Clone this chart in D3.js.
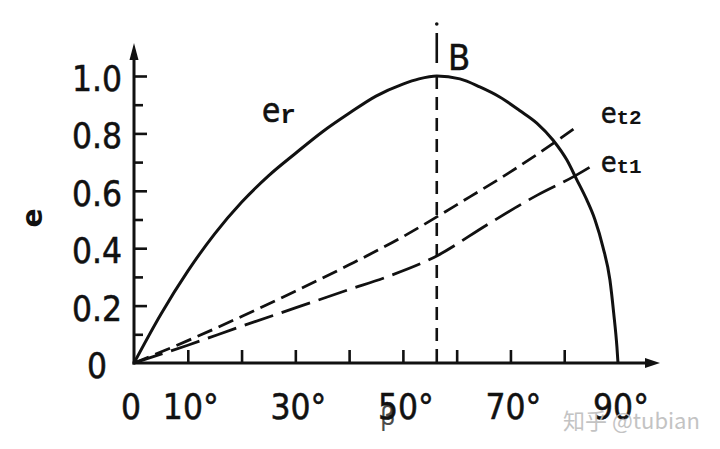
<!DOCTYPE html>
<html>
<head>
<meta charset="utf-8">
<script src="https://cdn.jsdelivr.net/npm/d3@7"></script>
<style>
  html, body { margin: 0; padding: 0; background: #fff; }
  svg { display: block; }
  .tick-label { font-family: "DejaVu Sans Condensed", "DejaVu Sans", sans-serif; font-size: 35px; fill: #111; stroke: #111; stroke-width: 0.5px; }
</style>
</head>
<body>
<div id="chart"></div>
<script>
// e_r curve (angle in degrees, value)
var erDeg = [0, 5, 10, 15, 20, 25, 30, 35, 40, 45, 50, 53, 56.3,
             60.6, 64.3, 68, 71.7, 74.9, 77.9, 80.5, 82.3, 84.2, 85.7, 87.2, 88.5, 89.2, 89.8, 90];
var erVal = [0, 0.17, 0.32, 0.45, 0.56, 0.652, 0.73, 0.805, 0.87, 0.93, 0.972, 0.99, 1.0,
             0.99, 0.962, 0.927, 0.88, 0.836, 0.777, 0.707, 0.64, 0.568, 0.5, 0.404, 0.289, 0.174, 0.056, 0];

// e_t2 (short dashes)
var et2Deg = [0, 10, 20, 30, 40, 50, 56.3, 60, 70, 80, 82.5];
var et2Val = [0, 0.078, 0.162, 0.25, 0.342, 0.44, 0.509, 0.551, 0.666, 0.792, 0.826];

// e_t1 (long dashes)
var et1Deg = [0, 10, 20, 30, 40, 47, 56.3, 65.6, 75, 82, 85.7];
var et1Val = [0, 0.062, 0.128, 0.192, 0.256, 0.3, 0.373, 0.481, 0.585, 0.652, 0.693];

var bDeg = 56.3;

var xTickDeg = [10, 20, 30, 40, 50, 60, 70, 80];
var xLabels = ["10°", "30°", "50°", "70°", "90°"];
var xLabelDeg = [10, 30, 50, 70, 90];
var yMajor = [0.2, 0.4, 0.6, 0.8, 1.0];
var yMinor = [0.1, 0.3, 0.5, 0.7, 0.9];
var yLabels = ["0", "0.2", "0.4", "0.6", "0.8", "1.0"];
var yLabelVal = [0, 0.2, 0.4, 0.6, 0.8, 1.0];

var width = 720, height = 449;

var svg = d3.select('#chart').append('svg')
    .attr('width', width)
    .attr('height', height);

var x = d3.scaleLinear().domain([0, 90]).range([134, 618]);
var y = d3.scaleLinear().domain([0, 1]).range([363, 76]);

var ink = '#111';

// ticks (pointing into the plot)
svg.append('g')
    .attr('transform', 'translate(' + x(0) + ',0)')
    .call(d3.axisRight(y).tickValues(yMajor).tickSize(13).tickFormat(''))
    .call(function(g) { g.select('.domain').remove(); })
    .selectAll('line').attr('stroke', ink).attr('stroke-width', 2.6);

svg.append('g')
    .attr('transform', 'translate(' + x(0) + ',0)')
    .call(d3.axisRight(y).tickValues(yMinor).tickSize(9).tickFormat(''))
    .call(function(g) { g.select('.domain').remove(); })
    .selectAll('line').attr('stroke', ink).attr('stroke-width', 2.6);

svg.append('g')
    .attr('transform', 'translate(0,' + y(0) + ')')
    .call(d3.axisTop(x).tickValues(xTickDeg).tickSize(13).tickFormat(''))
    .call(function(g) { g.select('.domain').remove(); })
    .selectAll('line').attr('stroke', ink).attr('stroke-width', 2.6);

// axis lines with arrows
svg.append('line')
    .attr('x1', x(0)).attr('y1', y(0) + 1.5)
    .attr('x2', x(0)).attr('y2', 52)
    .attr('stroke', ink).attr('stroke-width', 3);
svg.append('path')
    .attr('d', 'M' + x(0) + ',43 L' + (x(0) - 4.5) + ',60 L' + (x(0) + 4.5) + ',60 Z')
    .attr('fill', ink);

svg.append('line')
    .attr('x1', x(0) - 1.5).attr('y1', y(0))
    .attr('x2', 650).attr('y2', y(0))
    .attr('stroke', ink).attr('stroke-width', 3);
svg.append('path')
    .attr('d', 'M660,' + y(0) + ' L645,' + (y(0) - 5) + ' L645,' + (y(0) + 5) + ' Z')
    .attr('fill', ink);

// vertical B line
svg.append('line')
    .attr('x1', x(bDeg)).attr('y1', 33)
    .attr('x2', x(bDeg)).attr('y2', 63)
    .attr('stroke', ink).attr('stroke-width', 2.6);
svg.append('circle').attr('cx', x(bDeg)).attr('cy', 24).attr('r', 1.8).attr('fill', ink);
svg.append('line')
    .attr('x1', x(bDeg)).attr('y1', y(1))
    .attr('x2', x(bDeg)).attr('y2', y(0))
    .attr('stroke', ink).attr('stroke-width', 2.6)
    .attr('stroke-dasharray', '13,8');

var line = d3.line()
    .x(function(d) { return x(d[0]); })
    .y(function(d) { return y(d[1]); })
    .curve(d3.curveMonotoneX);

svg.append('path')
    .datum(d3.zip(et2Deg, et2Val))
    .attr('d', line)
    .attr('fill', 'none').attr('stroke', ink).attr('stroke-width', 2.8)
    .attr('stroke-dasharray', '16,7');

svg.append('path')
    .datum(d3.zip(et1Deg, et1Val))
    .attr('d', line)
    .attr('fill', 'none').attr('stroke', ink).attr('stroke-width', 2.8)
    .attr('stroke-dasharray', '30,9');

svg.append('path')
    .datum(d3.zip(erDeg, erVal))
    .attr('d', line)
    .attr('fill', 'none').attr('stroke', ink).attr('stroke-width', 3);

// tick labels
svg.selectAll('text.ylab')
    .data(d3.zip(yLabels, yLabelVal))
    .enter().append('text')
    .attr('class', 'tick-label ylab')
    .attr('x', 97)
    .attr('y', function(d) { return y(d[1]) + 15; })
    .attr('text-anchor', 'middle')
    .text(function(d) { return d[0]; });

svg.append('text')
    .attr('class', 'tick-label')
    .attr('x', x(0) - 3).attr('y', 419)
    .attr('text-anchor', 'middle')
    .text('0');

svg.selectAll('text.xlab')
    .data(d3.zip(xLabels, xLabelDeg))
    .enter().append('text')
    .attr('class', 'tick-label xlab')
    .attr('x', function(d) { return x(d[1]) + 3; })
    .attr('y', 419)
    .attr('text-anchor', 'middle')
    .text(function(d) { return d[0]; });

// beta smudge under 50
svg.append('text')
    .attr('x', 380).attr('y', 425)
    .attr('font-family', 'DejaVu Sans Condensed, DejaVu Sans, sans-serif')
    .attr('font-size', 27)
    .attr('fill', ink)
    .attr('opacity', 0.75)
    .text('β');

// y axis name
svg.append('text')
    .attr('transform', 'translate(32,218) rotate(-90)')
    .attr('font-family', 'DejaVu Sans, sans-serif')
    .attr('font-size', 28)
    .attr('font-weight', 'bold')
    .attr('text-anchor', 'middle')
    .attr('dominant-baseline', 'central')
    .attr('fill', ink)
    .text('e');

// curve labels
function curveLabel(px, py, sub, eSize, subSize) {
    var t = svg.append('text')
        .attr('x', px).attr('y', py)
        .attr('fill', ink);
    t.append('tspan')
        .attr('font-family', 'DejaVu Sans Condensed, DejaVu Sans, sans-serif')
        .attr('font-size', eSize)
        .attr('stroke', ink).attr('stroke-width', 0.6)
        .text('e');
    t.append('tspan')
        .attr('font-family', 'Liberation Mono, DejaVu Sans Mono, monospace')
        .attr('font-weight', 'bold')
        .attr('font-size', subSize)
        .attr('dy', 1)
        .text(sub);
}
curveLabel(262, 122, 'r', 33, 26);
curveLabel(601, 123, 't2', 28, 21);
curveLabel(601, 172, 't1', 28, 21);

svg.append('text')
    .attr('x', 448).attr('y', 70)
    .attr('font-family', 'DejaVu Sans Condensed, DejaVu Sans, sans-serif')
    .attr('font-size', 36)
    .attr('fill', ink)
    .attr('stroke', ink).attr('stroke-width', 0.5)
    .text('B');

// watermark
svg.append('text')
    .attr('x', 563).attr('y', 429)
    .attr('font-family', 'Noto Sans CJK SC, sans-serif')
    .attr('font-size', 22)
    .attr('fill', '#bdbdbd')
    .attr('opacity', 0.9)
    .text('知乎 @tubian');
</script>
</body>
</html>
